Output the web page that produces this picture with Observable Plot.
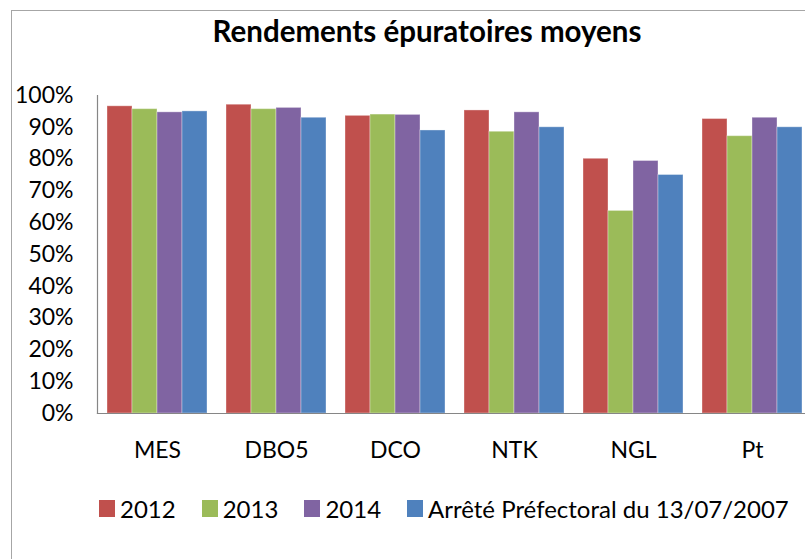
<!DOCTYPE html>
<html>
<head>
<meta charset="utf-8">
<script src="https://cdn.jsdelivr.net/npm/d3@7"></script>
<script src="https://cdn.jsdelivr.net/npm/@observablehq/plot@0.6"></script>
<style>
  html, body { margin: 0; padding: 0; background: #fff; }
  #wrap { position: relative; width: 805px; height: 559px; overflow: hidden; background: #fff; font-family: Lato, "Open Sans", sans-serif; }
  #border { position: absolute; left: 11px; top: 10px; width: 900px; height: 700px; border-left: 1.5px solid #a6a6a6; border-top: 1.5px solid #a6a6a6; }
  #title { position: absolute; left: 127px; width: 600px; top: 13px; text-align: center; font-weight: bold; font-size: 29.5px; color: #000; }
  #chart, #axes { position: absolute; left: 0; top: 0; }
  #chart svg, #axes svg { overflow: hidden; background: transparent; }
  #legend { position: absolute; left: 99px; top: 492px; width: 760px; white-space: nowrap; }
  .lg-swatches { font-family: Lato, sans-serif !important; font-size: 24px !important; color: #000; flex-wrap: nowrap !important; white-space: nowrap; }
  .lg-swatch { margin-right: 26px !important; white-space: nowrap; }
  .lg-swatch svg { margin-right: 5px !important; }
</style>
</head>
<body>
<div id="wrap">
  <div id="border"></div>
  <div id="title">Rendements épuratoires moyens</div>
  <div id="chart"></div>
  <div id="axes"></div>
  <div id="legend"></div>
</div>
<script>
const categories = ["MES", "DBO5", "DCO", "NTK", "NGL", "Pt"];
const series = ["2012", "2013", "2014", "Arrêté Préfectoral du 13/07/2007"];
const v2012 = [0.966, 0.971, 0.936, 0.953, 0.801, 0.926];
const v2013 = [0.957, 0.957, 0.940, 0.886, 0.637, 0.872];
const v2014 = [0.947, 0.961, 0.939, 0.947, 0.794, 0.930];
const vArrete = [0.95, 0.93, 0.89, 0.90, 0.75, 0.90];
const colors = ["#C0504D", "#9BBB59", "#8064A2", "#4F81BD"];
const yTicks = [0, 0.1, 0.2, 0.3, 0.4, 0.5, 0.6, 0.7, 0.8, 0.9, 1.0];

const seriesValues = [v2012, v2013, v2014, vArrete];
const data = [];
categories.forEach((c, i) => {
  series.forEach((s, j) => {
    data.push({category: c, series: s, value: seriesValues[j][i]});
  });
});

const dims = {width: 805, height: 559, marginLeft: 97, marginRight: -6, marginTop: 95, marginBottom: 146};

const plot = Plot.plot({
  ...dims,
  style: {fontFamily: "Lato, sans-serif", fontSize: "23px", color: "#000", background: "transparent"},
  fx: {domain: categories, paddingInner: 0.16, paddingOuter: 0.08, axis: "bottom", tickSize: 0, tickPadding: 28, label: null},
  x: {domain: series, padding: 0, axis: null},
  y: {domain: [0, 1], ticks: yTicks, tickFormat: d3.format(".0%"), tickSize: 0, tickPadding: 34, label: null},
  color: {domain: series, range: colors},
  marks: [
    Plot.barY(data, {fx: "category", x: "series", y: "value", fill: "series", stroke: "#fff", strokeOpacity: 0.35, strokeWidth: 1})
  ]
});
document.getElementById("chart").appendChild(plot);

// Plot-area axis lines (left and bottom), drawn over the whole frame
const axesPlot = Plot.plot({
  ...dims,
  style: {background: "transparent"},
  x: {axis: null},
  y: {domain: [0, 1], axis: null},
  marks: [
    Plot.frame({anchor: "left", stroke: "#868686", strokeWidth: 1.2}),
    Plot.frame({anchor: "bottom", stroke: "#868686", strokeWidth: 1.2})
  ]
});
document.getElementById("axes").appendChild(axesPlot);

const legend = plot.legend("color", {legend: "swatches", swatchWidth: 16, swatchHeight: 17, className: "lg"});
document.getElementById("legend").appendChild(legend);
</script>
</body>
</html>
